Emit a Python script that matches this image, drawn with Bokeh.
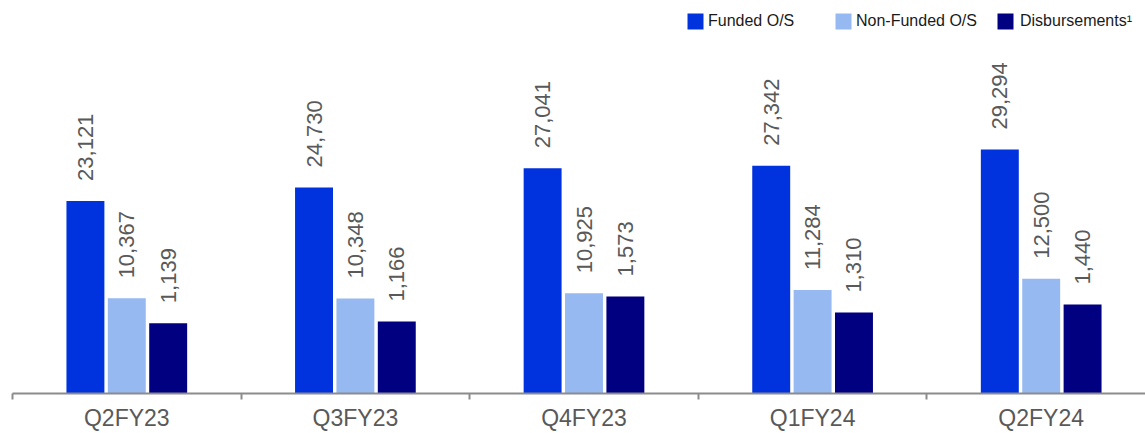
import numpy as np
from bokeh.plotting import figure
from bokeh.models import (Range1d, FixedTicker, Legend, LegendItem, ColumnDataSource)
from bokeh.core.properties import value
from bokeh.embed import file_html
from bokeh.resources import INLINE

categories = ["Q2FY23", "Q3FY23", "Q4FY23", "Q1FY24", "Q2FY24"]
funded = [23121, 24730, 27041, 27342, 29294]
non_funded = [10367, 10348, 10925, 11284, 12500]
disbursements = [1139, 1166, 1573, 1310, 1440]
series_names = ["Funded O/S", "Non-Funded O/S", "Disbursements\u00b9"]
colors = ["#0033DD", "#97B9F2", "#000080"]

FONT = "Liberation Sans"
W, H = 1145, 433
LEFT, BOTTOM = 12, 39
cat_px = 228.6
frame_w = W - LEFT
frame_h = H - BOTTOM

centers = np.arange(len(categories)) + 0.5
bounds = list(range(len(categories) + 1))

p = figure(width=W, height=H, output_backend="svg", toolbar_location=None,
           x_range=Range1d(0, frame_w / cat_px),
           y_range=Range1d(0, frame_h / 0.00835),
           y_axis_location=None,
           min_border_left=LEFT, min_border_right=0, min_border_top=0,
           min_border_bottom=BOTTOM)
p.extra_y_ranges = {"nf": Range1d(0, frame_h / 0.0092),
                    "db": Range1d(0, frame_h / 0.0619)}
p.outline_line_color = None
p.xgrid.visible = False
p.ygrid.visible = False
p.background_fill_color = "white"
p.border_fill_color = "white"

offset = 0.181
bw = 0.166
specs = [(funded, -offset, "default"), (non_funded, 0.0, "nf"), (disbursements, offset, "db")]
renderers = []
for (vals, off, rname), col in zip(specs, colors):
    src = ColumnDataSource(dict(x=centers + off, top=vals,
                                lab=[f"{v:,}" for v in vals]))
    r = p.vbar(x="x", top="top", bottom=0, width=bw, source=src,
               fill_color=col, line_color=None, y_range_name=rname)
    renderers.append(r)
    p.text(x="x", y="top", text="lab", source=src, y_range_name=rname,
           angle=np.pi / 2, text_align="left", text_baseline="middle",
           y_offset=-20, text_font=value(FONT), text_font_size="22px",
           text_color="#595959")

ax = p.xaxis[0]
ax.ticker = FixedTicker(ticks=list(centers), minor_ticks=bounds)
ax.major_label_overrides = {float(c): n for c, n in zip(centers, categories)}
ax.major_tick_out = 0
ax.major_tick_in = 0
ax.minor_tick_in = -6
ax.minor_tick_out = 0
ax.minor_tick_line_color = "#8C8C8C"
ax.minor_tick_line_width = 2
ax.axis_line_color = "#8C8C8C"
ax.axis_line_width = 2
ax.major_label_text_font = FONT
ax.major_label_text_font_size = "23px"
ax.major_label_text_color = "#595959"
ax.major_label_standoff = 11

# legends, each positioned separately (screen px from frame bottom-left)
leg_pos = [(685 - LEFT, frame_h - 32), (833 - LEFT, frame_h - 32), (995 - LEFT, frame_h - 32)]
standoffs = [3, 3, 5]
for r, name, pos, so in zip(renderers, series_names, leg_pos, standoffs):
    lg = Legend(items=[LegendItem(label=name, renderers=[r])], location=pos,
                orientation="horizontal", glyph_width=20, glyph_height=20,
                label_height=20, label_standoff=so, padding=0, margin=0,
                spacing=0, border_line_alpha=0, background_fill_alpha=0,
                label_text_font=FONT, label_text_font_size="16px",
                label_text_color="#1A1A1A", label_text_baseline="middle")
    p.add_layout(lg, "center")

open("out.html", "w").write(file_html(p, INLINE))
